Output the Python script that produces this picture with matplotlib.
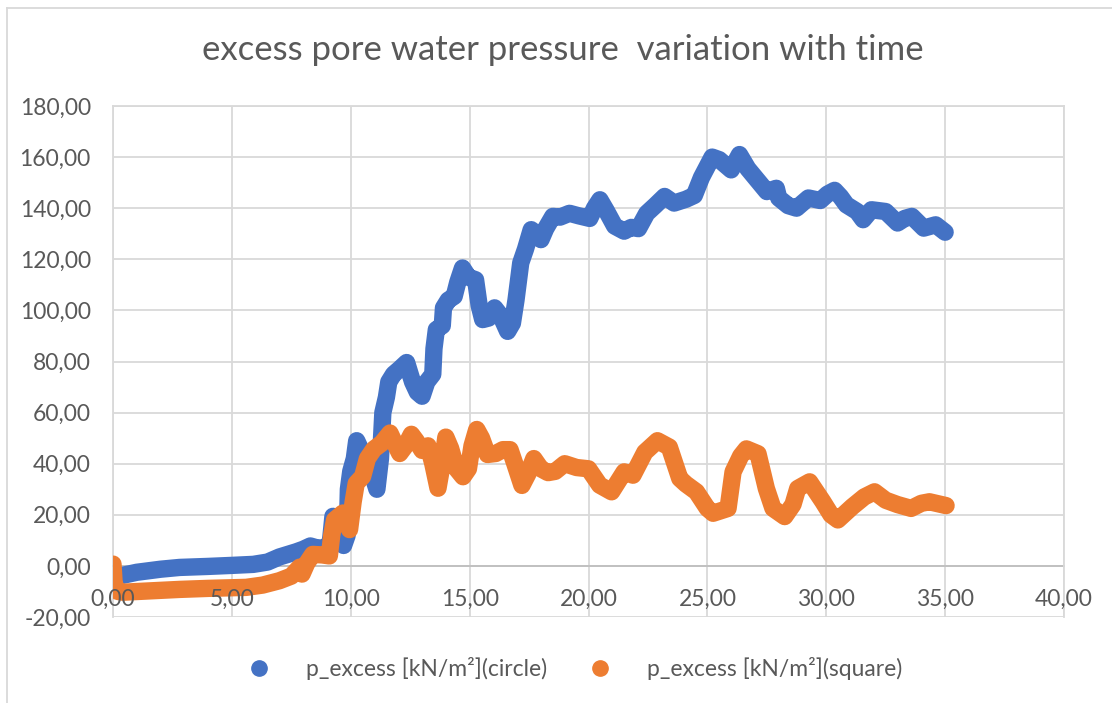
import matplotlib.pyplot as plt
from matplotlib.lines import Line2D
from matplotlib.ticker import FuncFormatter, MultipleLocator

# time [s] and excess pore pressure [kN/m2]
t_circle = [0.0, 0.05, 0.3, 1.0, 2.0, 2.8, 4.0, 5.0, 5.9, 6.5, 7.0, 7.7, 8.0, 8.3, 8.6, 9.0,
            9.15, 9.25, 9.4, 9.55, 9.7, 9.85, 9.9, 10.0, 10.15, 10.25, 10.4, 10.6, 10.8, 11.0,
            11.1, 11.25, 11.35, 11.5, 11.6, 11.8, 12.05, 12.35, 12.6, 12.8, 13.0, 13.2, 13.45,
            13.5, 13.6, 13.85, 13.9, 14.1, 14.35, 14.5, 14.7, 14.95, 15.25, 15.4, 15.55, 15.8,
            16.05, 16.3, 16.6, 16.8, 16.95, 17.15, 17.35, 17.59, 17.8, 18.0, 18.2, 18.5, 18.8,
            19.2, 19.6, 20.05, 20.25, 20.48, 20.75, 21.1, 21.5, 21.8, 22.1, 22.45, 22.8, 23.2,
            23.6, 24.1, 24.45, 24.75, 25.2, 25.5, 25.75, 26.0, 26.35, 26.7, 27.1, 27.5, 27.9,
            28.0, 28.4, 28.75, 29.25, 29.75, 30.05, 30.35, 30.6, 30.85, 31.3, 31.55, 31.9,
            32.5, 33.0, 33.3, 33.6, 34.1, 34.6, 35.0]
p_circle = [-8, -5, -3.9, -2.5, -1.3, -0.6, -0.2, 0.2, 0.6, 1.5, 3.5, 5.5, 6.5, 7.8, 7.0, 7.1,
            10, 19.4, 17, 12, 8, 12, 30, 37, 42, 49, 46, 40, 38, 33,
            30, 42, 60, 66, 72, 75, 77, 79.6, 72, 68, 66.4, 72, 75,
            85, 92.5, 94, 101, 104, 105.5, 111, 116.6, 113, 112, 102, 96.4, 97,
            101, 98, 91.8, 95, 104, 118.6, 124, 131.6, 130, 127.7, 132, 136.8, 136.5,
            138, 137, 136, 140, 143.3, 139, 133, 131, 132.5, 132, 138, 141, 144.6,
            142, 143.5, 145, 152, 160, 159, 157, 155, 161, 155.5, 151, 146.5, 147.8,
            144, 141, 140, 144, 143, 145.5, 147, 144.5, 141.3, 138.7, 135.5, 139.4,
            138.7, 134.2, 136, 136.8, 132.2, 133.5, 130.6]

t_square = [0.0, 0.05, 0.2, 0.42, 1.5, 2.8, 4.0, 5.6, 6.3, 7.0, 7.5, 7.85, 7.95, 8.15, 8.4,
            8.8, 9.1, 9.2, 9.32, 9.67, 9.95, 10.1, 10.23, 10.5, 10.7, 10.97, 11.3, 11.65,
            11.85, 12.06, 12.3, 12.55, 12.75, 13.0, 13.25, 13.45, 13.67, 13.85, 14.0, 14.2,
            14.45, 14.72, 14.95, 15.1, 15.3, 15.5, 15.75, 16.1, 16.4, 16.7, 16.9, 17.2, 17.45,
            17.7, 18.0, 18.3, 18.6, 19.0, 19.5, 20.0, 20.47, 20.97, 21.5, 21.87, 22.37, 22.9,
            23.4, 23.84, 24.1, 24.54, 25.0, 25.24, 25.87, 26.08, 26.4, 26.64, 27.13, 27.48,
            27.76, 28.25, 28.6, 28.8, 29.3, 29.86, 30.2, 30.49, 31.1, 31.6, 32.03, 32.5, 33.0,
            33.57, 34.0, 34.34, 35.04]
p_square = [0.7, -7, -10, -10.3, -9.8, -9.2, -8.8, -8.4, -7.5, -5.8, -4, -0.5, -3.2, 1, 4.5,
            4.3, 3.9, 12, 18, 20.7, 14.2, 25, 32.3, 35, 42, 45.7, 48, 52,
            48, 44, 47, 51.5, 49, 45.2, 47, 40, 30.4, 40, 50.4, 46,
            38, 34.9, 38, 47, 53.4, 50, 43.6, 44, 45.5, 45.5, 40, 31.5, 36,
            42, 38, 36.5, 37, 40, 38.5, 38, 31.6, 29, 36.8, 35.5, 44.5, 49,
            46.5, 34.2, 32, 29, 22.5, 20.6, 22.5, 36.8, 43, 45.8, 43.9, 30.3,
            22.5, 19.3, 24, 30.3, 32.9, 25.1, 20, 18, 23.2, 27, 29, 25.7, 24,
            22.5, 24.5, 25.1, 23.6]

labels = ['p_excess [kN/m²](circle)', 'p_excess [kN/m²](square)']
colors = ['#4472C4', '#ED7D31']
txt = '#595959'

plt.rcParams['font.family'] = ['Lato', 'DejaVu Sans']

fig = plt.figure(figsize=(11.12, 7.03), dpi=100)
ax = fig.add_axes([113/1112, 1 - 617/703, (1064 - 113)/1112, (617 - 106)/703])

ax.plot(t_circle, p_circle, color=colors[0], lw=12.5, solid_capstyle='round', solid_joinstyle='round', zorder=3)
ax.plot(t_square, p_square, color=colors[1], lw=12.5, solid_capstyle='round', solid_joinstyle='round', zorder=4)

ax.set_xlim(0, 40)
ax.set_ylim(-20, 180)
ax.xaxis.set_major_locator(MultipleLocator(5))
ax.yaxis.set_major_locator(MultipleLocator(20))
fmt = FuncFormatter(lambda v, pos: f'{v:.2f}'.replace('.', ','))
ax.xaxis.set_major_formatter(fmt)
ax.yaxis.set_major_formatter(fmt)

# gridlines drawn under the data, axis labels on top (as in Excel)
for xv in ax.get_xticks():
    ax.axvline(xv, color='#d9d9d9', lw=1.3, zorder=0)
for yv in ax.get_yticks():
    ax.axhline(yv, color='#d9d9d9', lw=1.3, zorder=0)
ax.xaxis.set_zorder(5)

for s in ['top', 'right', 'left']:
    ax.spines[s].set_color('#d9d9d9')
    ax.spines[s].set_linewidth(1.3)
ax.spines['bottom'].set_position(('data', 0))
ax.spines['bottom'].set_color('#bfbfbf')
ax.spines['bottom'].set_linewidth(1.3)
ax.spines['bottom'].set_zorder(1)

ax.tick_params(axis='both', length=0, labelsize=16.5, labelcolor=txt)
ax.tick_params(axis='x', pad=16.5)
ax.tick_params(axis='y', pad=16)

fig.text(563/1112, 1 - 50/703, 'excess pore water pressure  variation with time',
         ha='center', va='center', fontsize=25, color=txt)

handles = [Line2D([], [], ls='none', marker='o', ms=11, color=c) for c in colors]
fig.legend(handles, labels, loc='center', bbox_to_anchor=(0.512, 1 - 669/703), ncol=2,
           frameon=False, fontsize=16.5, labelcolor=txt, handletextpad=1.05, columnspacing=1.3)

# chart area border
fig.add_artist(Line2D([7/1112, 7/1112], [0, 1 - 8/703], color='#d9d9d9', lw=1.3))
fig.add_artist(Line2D([7/1112, 1], [1 - 8/703, 1 - 8/703], color='#d9d9d9', lw=1.3))

fig.savefig('out.png', dpi=100)
